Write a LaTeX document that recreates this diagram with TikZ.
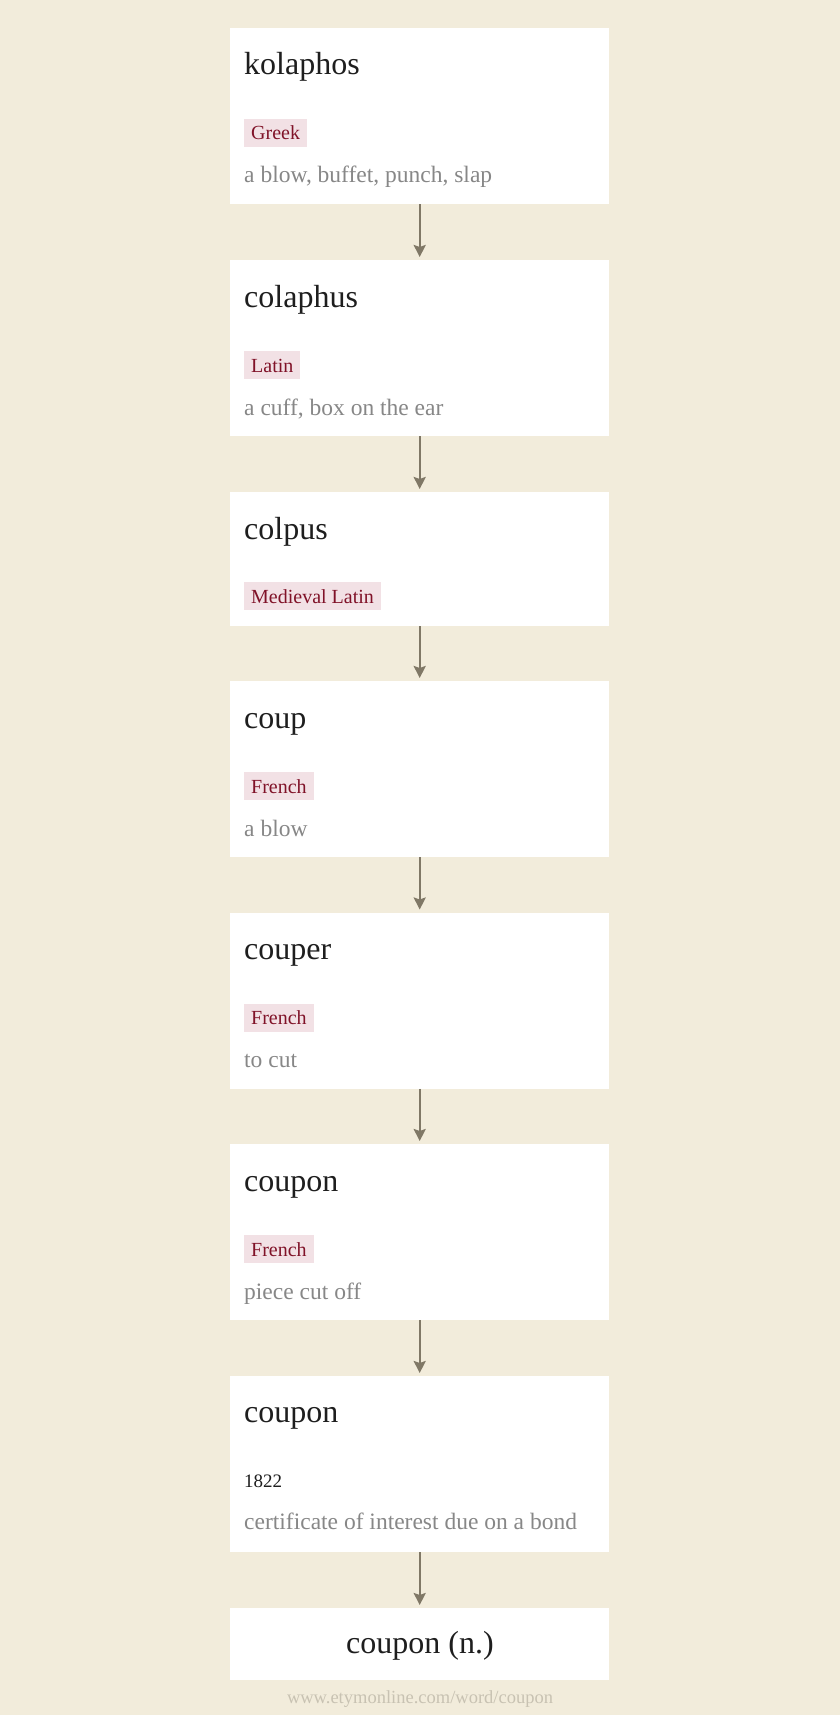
\documentclass[tikz,border=0pt]{standalone}
\usepackage{fontspec}
\setmainfont{Liberation Serif}
\usepackage{tikz}
\usetikzlibrary{arrows.meta}
\definecolor{pagebg}{RGB}{242,236,219}
\definecolor{headtext}{RGB}{30,30,30}
\definecolor{glosstext}{RGB}{135,135,135}
\definecolor{tagbg}{RGB}{242,225,229}
\definecolor{tagtext}{RGB}{128,18,40}
\definecolor{arrowcol}{RGB}{128,120,102}
\definecolor{foottext}{RGB}{200,194,178}

\begin{document}
\begin{tikzpicture}[x=1pt, y=-1pt,
    card/.style={fill=white, inner sep=0pt, anchor=north west, minimum width=379pt, minimum height=176pt},
    head/.style={inner sep=0pt, anchor=base west, text=headtext, font=\fontsize{32}{38}\selectfont},
    lang/.style={fill=tagbg, text=tagtext, anchor=base west, inner xsep=7pt, inner ysep=0pt, text height=21pt, text depth=7pt, font=\fontsize{20}{24}\selectfont},
    gloss/.style={inner sep=0pt, anchor=base west, text=glosstext, font=\fontsize{23.5}{28}\selectfont},
    link/.style={draw=arrowcol, line width=2.4pt, -{Stealth[length=12pt,width=12pt,inset=2pt]}, shorten >=3pt}]
    \fill [pagebg] (0,0) rectangle (840,1715);
    % cards
    \node [card] at (230,28) (b1) {};
    \node [card] at (230,260) (b2) {};
    \node [card, minimum height=134pt] at (230,492) (b3) {};
    \node [card] at (230,681) (b4) {};
    \node [card] at (230,912.5) (b5) {};
    \node [card] at (230,1144) (b6) {};
    \node [card] at (230,1376) (b7) {};
    \node [card, minimum height=72pt] at (230,1608) (b8) {};
    % kolaphos
    \node [head] at (244,75) (h1) {kolaphos};
    \node [lang] at (244,140) (l1) {Greek};
    \node [gloss] at (244,183) (g1) {a blow, buffet, punch, slap};
    % colaphus
    \node [head] at (244,307) (h2) {colaphus};
    \node [lang] at (244,372) (l2) {Latin};
    \node [gloss] at (244,415) (g2) {a cuff, box on the ear};
    % colpus
    \node [head] at (244,539) (h3) {colpus};
    \node [lang] at (244,603) (l3) {Medieval Latin};
    % coup
    \node [head] at (244,728) (h4) {coup};
    \node [lang] at (244,793) (l4) {French};
    \node [gloss] at (244,836) (g4) {a blow};
    % couper
    \node [head] at (244,959.5) (h5) {couper};
    \node [lang] at (244,1024.5) (l5) {French};
    \node [gloss] at (244,1067.5) (g5) {to cut};
    % coupon
    \node [head] at (244,1191) (h6) {coupon};
    \node [lang] at (244,1256) (l6) {French};
    \node [gloss] at (244,1299) (g6) {piece cut off};
    % coupon 1822
    \node [head] at (244,1422) (h7) {coupon};
    \node [inner sep=0pt, anchor=base west, text=headtext, font=\fontsize{19}{23}\selectfont] at (244,1487) (y7) {1822};
    \node [gloss] at (244,1529) (g7) {certificate of interest due on a bond};
    % result
    \node [inner sep=0pt, anchor=base, text=headtext, font=\fontsize{32}{38}\selectfont] at (420,1653) (h8) {coupon (n.)};
    \node [inner sep=0pt, anchor=base, text=foottext, font=\fontsize{18.5}{22}\selectfont] at (420,1703) (foot) {www.etymonline.com/word/coupon};
    % links
    \path [link] (b1) -- (b2);
    \path [link] (b2) -- (b3);
    \path [link] (b3) -- (b4);
    \path [link] (b4) -- (b5);
    \path [link] (b5) -- (b6);
    \path [link] (b6) -- (b7);
    \path [link] (b7) -- (b8);
\end{tikzpicture}
\end{document}
